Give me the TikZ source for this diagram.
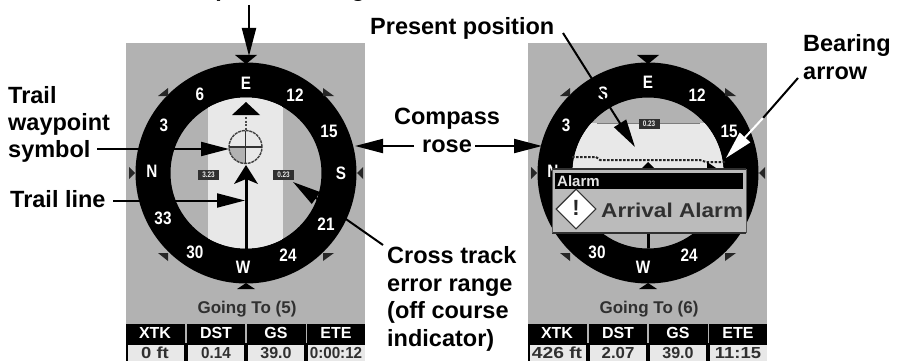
\documentclass[tikz,border=0pt]{standalone}
\usepackage{fontspec}
\usepackage{graphicx}
\setmainfont{Liberation Sans}
\usetikzlibrary{arrows.meta}
\definecolor{lcdgrey}{HTML}{B2B2B2}
\definecolor{lcdlight}{HTML}{E8E8E8}
\definecolor{lcddark}{HTML}{303030}
\tikzset{
  callout/.style={font=\fontsize{23.5}{27.4}\selectfont\bfseries,inner sep=0pt,align=left,text=black},
  pointer/.style={line width=2pt,-{Triangle[length=28pt,width=14pt]}},
  ringtext/.style={font=\fontsize{18}{18}\selectfont\bfseries,text=white,inner sep=0pt},
  headtext/.style={font=\fontsize{16}{16}\selectfont\bfseries,text=white,inner sep=0pt},
  valtext/.style={font=\fontsize{16}{16}\selectfont\bfseries,text=lcddark,inner sep=0pt},
  gotext/.style={font=\fontsize{17}{17}\selectfont\bfseries,text=lcddark,inner sep=0pt},
  rangebox/.style={fill=lcddark,text=lcdlight,font=\fontsize{8}{8}\selectfont\bfseries,inner sep=0pt,minimum width=21pt,minimum height=10pt},
}
\newcommand{\rl}[3]{\node[ringtext] (#1) at (#2) {\scalebox{.85}[1]{#3}};}
\newcommand{\vs}[2]{\scalebox{#1}[1]{#2}}
% common screen: #1 name prefix, #2 x origin offset, #3 going-to text, #4-#7 values
\newcommand{\screenframe}[7]{%
 \begin{scope}[xshift=#2pt]
  \fill[lcdgrey] (126,43) rectangle (365,361);
  \fill[black,even odd rule] (246,173) circle[radius=110.5pt] (246,173) circle[radius=75.5pt];
  % marker triangles round the ring
  \fill[black] (235,55)--(257,55)--(246,64)--cycle;
  \fill[black!85] (158,96)--(168,96)--(168,88)--cycle;
  \fill[black!85] (323,88)--(323,96)--(334,96)--cycle;
  \fill[black!85] (129,167)--(129,179)--(135,173)--cycle;
  \fill[black!85] (363,167)--(363,179)--(357,173)--cycle;
  \fill[black!85] (158,253)--(168,253)--(168,261)--cycle;
  \fill[black!85] (323,253)--(334,253)--(323,261)--cycle;
  \fill[black] (237,289)--(255,289)--(246,283)--cycle;
  \node[gotext] (#1go) at (247,309) {#3};
  % data table
  \fill[black] (126,324) rectangle (365,343);
  \fill[black] (126,343) rectangle (365,361);
  \fill[lcdgrey] (185,324) rectangle (187,343);
  \fill[lcdgrey] (245,324) rectangle (246.5,343);
  \fill[lcdgrey] (305.5,324) rectangle (307,343);
  \fill[lcdlight] (128,345) rectangle (184,361);
  \fill[lcdlight] (188,345) rectangle (244,361);
  \fill[lcdlight] (248,345) rectangle (304,361);
  \fill[lcdlight] (308,345) rectangle (365,361);
  \node[headtext] (#1ha) at (155,333) {XTK};
  \node[headtext] (#1hb) at (216,333) {DST};
  \node[headtext] (#1hc) at (276,333) {GS};
  \node[headtext] (#1hd) at (336,333) {ETE};
  \node[valtext] (#1va) at (155,353) {#4};
  \node[valtext] (#1vb) at (216,353) {#5};
  \node[valtext] (#1vc) at (276,353) {#6};
  \node[valtext] (#1vd) at (336,353) {#7};
 \end{scope}}
\begin{document}
\begin{tikzpicture}[x=1pt,y=-1pt]
\useasboundingbox (0,0) rectangle (899,361);
\fill[white] (0,0) rectangle (899,361);
%% LEFT SCREEN
\screenframe{l}{0}{Going To (5)}{\vs{1.15}{0 ft}}{\vs{.95}{0.14}}{\vs{1}{39.0}}{\vs{.95}{0:00:12}}
\begin{scope}
  \clip (246,173) circle[radius=75.5pt];
  \fill[lcdlight] (208,90) rectangle (283,256);
\end{scope}
\rl{lE}{246,83}{E}\rl{l6}{200,94}{6}\rl{l12}{295,95}{12}\rl{l3}{164,125}{3}\rl{l15}{329,131}{15}
\rl{lN}{152,171}{N}\rl{lS}{341,173}{S}\rl{l33}{163,218}{33}\rl{l21}{326,224}{21}
\rl{l30}{195,252}{30}\rl{l24}{288,255}{24}\rl{lW}{243,267}{W}
% course pointer, waypoint
\fill[black] (232,115)--(260,115)--(246,102)--cycle;
\draw[line width=2pt,black!70,dash pattern=on 2pt off 1.5pt] (245.5,117)--(245.5,130);
\fill[lcdgrey] (245.5,147) -- (229,147) arc[start angle=180,end angle=270,radius=16.5pt]--cycle;
\draw[line width=1.4pt,black!75,dash pattern=on 3pt off .8pt] (245.5,147) circle[radius=16.5pt];
\draw[line width=1.2pt,black!80] (229,147)--(262,147) (245.5,130.5)--(245.5,163.5);
\fill[black] (246,165)--(258,184)--(246,179)--(234,184)--cycle;
\draw[line width=3.5pt,black] (246.5,176)--(246.5,249);
\node[rangebox] (lrangeL) at (208.5,174.5) {\scalebox{.8}[1]{3.23}};
\node[rangebox] (lrangeR) at (283.5,174.5) {\scalebox{.8}[1]{0.23}};
%% RIGHT SCREEN
\screenframe{r}{402}{Going To (6)}{\vs{1.2}{426 ft}}{\vs{1.05}{2.07}}{\vs{1}{39.0}}{\vs{1.15}{11:15}}
\begin{scope}
  \clip (648,173) circle[radius=75.5pt];
  \fill[lcdlight] (560,123) rectangle (740,172);
  \fill[lcdgrey!70!black] (597,122.5) rectangle (700,123.5);
  \draw[line width=3pt,black] (648,232)--(648,250);
\end{scope}
\rl{rE}{648,82}{E}\rl{rS}{603,93}{S}\rl{r12}{697,95}{12}\rl{r3}{566,125}{3}\rl{r15}{729,131}{15}
\rl{rN}{553,171}{N}
\rl{r30}{597,252}{30}\rl{r24}{689,255}{24}\rl{rW}{643,267}{W}
\node[rangebox] (rrange) at (649,123.5) {\scalebox{.8}[1]{0.23}};
\draw[line width=2pt,black!85,dash pattern=on 2.5pt off 1.5pt] (572,157)--(596,157)--(600,160)--(700,160)--(706,162)--(725,162);
\fill[black] (640,170)--(656,170)--(648,162)--cycle;
\fill[black] (707,170)--(719,170)--(707,162)--cycle;
% alarm box
\fill[lcdgrey!88!white] (552,169) rectangle (746,233);
\draw[line width=1.4pt,lcddark] (552,169)--(746,169) (552,233)--(746,233);
\draw[line width=1pt,lcddark!70!lcdgrey] (552,169)--(552,233) (746,169)--(746,233);
\fill[black] (555,173) rectangle (743,189);
\node[font=\fontsize{15}{15}\selectfont\bfseries,text=white!90!black,inner sep=0pt,anchor=base west] (alarmtitle) at (557,186.5) {Alarm};
\node[draw=black!80,line width=1.2pt,fill=white,minimum width=39pt,minimum height=39pt,inner sep=0pt,rotate=45,shape=rectangle,scale=.72] (alarmsign) at (576,209) {};
\node[font=\fontsize{22}{22}\selectfont\bfseries,text=black!85,inner sep=0pt] (alarmmark) at (576,208) {!};
\node[font=\fontsize{20}{20}\selectfont\bfseries,text=lcddark,inner sep=0pt,anchor=base west] (alarmtext) at (601,217) {\scalebox{1.13}[1]{Arrival Alarm}};
%% CALLOUTS
\node[callout,anchor=base west] (top) at (163,-3) {Compass heading};
\node[callout,anchor=base west] (trail) at (8,103) {Trail};
\node[callout,anchor=base west] (wayp) at (8,130) {waypoint};
\node[callout,anchor=base west] (symb) at (8,157.5) {symbol};
\node[callout,anchor=base west] (tline) at (10,207) {Trail line};
\node[callout,anchor=base west] (pres) at (370,35) {Present position};
\node[callout,anchor=base] (comp) at (447,124) {Compass};
\node[callout,anchor=base] (rose) at (447,152) {rose};
\node[callout,anchor=base west] (bear) at (803,52) {Bearing};
\node[callout,anchor=base west] (barr) at (803,79) {arrow};
\node[callout,anchor=base west] (xa) at (387,263) {Cross track};
\node[callout,anchor=base west] (xb) at (387,291) {error range};
\node[callout,anchor=base west] (xc) at (387,318) {(off course};
\node[callout,anchor=base west] (xd) at (387,346) {indicator)};
\coordinate (topS) at (249,5);
\coordinate (topE) at (249,56);
\coordinate (wptS) at (97,149);
\coordinate (wptE) at (229,149);
\coordinate (trlS) at (113,200.5);
\coordinate (trlE) at (245,200.5);
\coordinate (presS) at (563,33);
\coordinate (presE) at (635,147);
\coordinate (compL) at (414,146);
\coordinate (compLE) at (355,146);
\coordinate (compR) at (475,146);
\coordinate (compRE) at (542,146);
\coordinate (xS) at (383,245);
\coordinate (xE) at (293,182);
\coordinate (bearS) at (798,78);
\coordinate (bearM) at (763,118);
\coordinate (bearE) at (726,158);
\draw[pointer] (topS)--(topE);
\draw[pointer] (wptS)--(wptE);
\draw[pointer] (trlS)--(trlE);
\draw[pointer] (presS)--(presE);
\draw[pointer] (compL)--(compLE);
\draw[pointer] (compR)--(compRE);
\draw[pointer] (xS)--(xE);
\draw[line width=2pt,black] (bearS)--(bearM);
\draw[line width=2pt,white,-{Triangle[length=28pt,width=14pt,fill=white]}] (bearM)--(bearE);
\end{tikzpicture}
\end{document}
